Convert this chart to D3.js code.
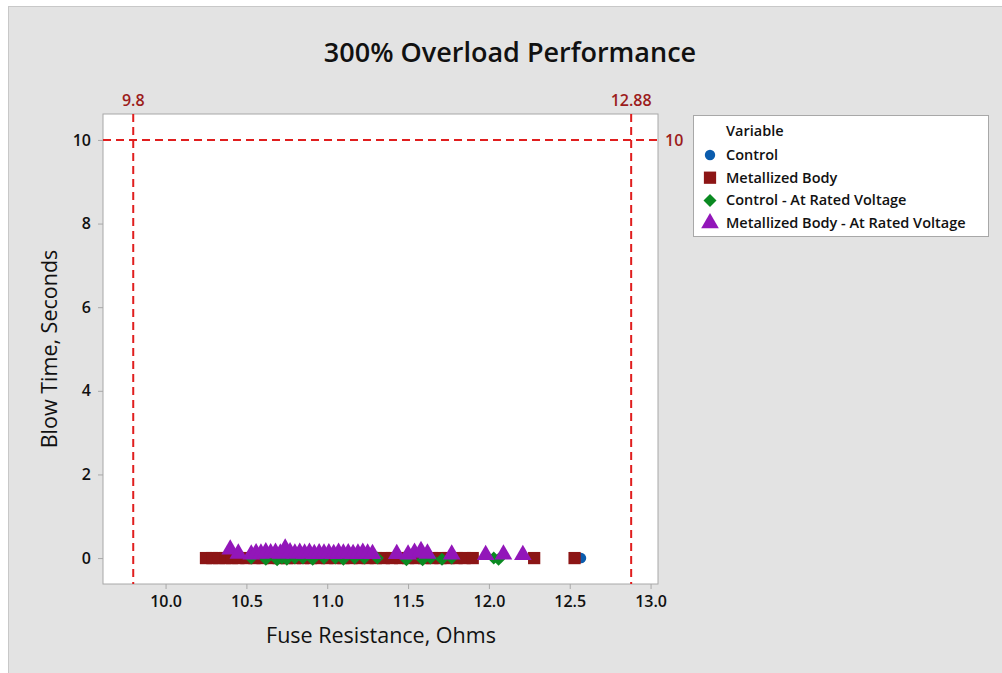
<!DOCTYPE html>
<html>
<head>
<meta charset="utf-8">
<script src="https://cdn.jsdelivr.net/npm/d3@7"></script>
<style>
  body { margin: 0; background: #fff; }
  text { font-family: "Open Sans", "Noto Sans", sans-serif; }
</style>
</head>
<body>
<div id="svg"></div>
<script>
var width = 1002, height = 673;

// data (blow time in seconds vs resistance in ohms)
var seriesNames = ["Control", "Metallized Body", "Control - At Rated Voltage", "Metallized Body - At Rated Voltage"];

var controlX = [10.3, 10.45, 10.6, 10.75, 10.9, 11.0, 11.15, 11.3, 11.45, 11.65, 11.8, 12.57];
var controlY = [0, 0, 0, 0, 0, 0, 0, 0, 0, 0, 0, 0];

var metalX = [10.25, 10.29, 10.33, 10.37, 10.41, 10.45, 10.5, 10.55, 10.6, 10.65, 10.7, 10.75, 10.8,
              10.85, 10.9, 10.95, 11.0, 11.05, 11.1, 11.15, 11.2, 11.25, 11.3, 11.35, 11.4, 11.45,
              11.5, 11.55, 11.6, 11.65, 11.7, 11.75, 11.8, 11.85, 11.9, 12.28, 12.53];
var metalY = metalX.map(function() { return 0; });

var ctrlRatedX = [10.53, 10.62, 10.69, 10.72, 10.75, 10.8, 10.85, 10.91, 10.98, 11.05, 11.1, 11.17,
                  11.23, 11.31, 11.49, 11.59, 11.64, 11.71, 11.77, 12.03, 12.06];
var ctrlRatedY = [0, -0.03, -0.04, 0, -0.03, 0, 0, -0.03, 0, 0, -0.03, 0, 0, 0, -0.04, -0.04, 0, -0.03, 0, 0, -0.03];

var metRatedX = [10.4, 10.45, 10.53, 10.56, 10.59, 10.62, 10.65, 10.68, 10.71, 10.74, 10.77, 10.8,
                 10.83, 10.86, 10.89, 10.92, 10.95, 10.98, 11.01, 11.04, 11.07, 11.1, 11.13, 11.16,
                 11.19, 11.22, 11.25, 11.28, 11.43, 11.5, 11.54, 11.58, 11.62, 11.77, 11.98, 12.09, 12.21];
var metRatedY = [0.16, 0.06, 0.04, 0.07, 0.06, 0.09, 0.07, 0.08, 0.06, 0.18, 0.09, 0.06,
                 0.08, 0.06, 0.08, 0.05, 0.07, 0.06, 0.07, 0.05, 0.08, 0.06, 0.07, 0.05,
                 0.06, 0.08, 0.06, 0.05, 0.05, 0.04, 0.08, 0.12, 0.06, 0.04, 0.03, 0.04, 0.03];

var xTicks = [10.0, 10.5, 11.0, 11.5, 12.0, 12.5, 13.0];
var yTicks = [0, 2, 4, 6, 8, 10];
var refX = [9.8, 12.88];
var refY = [10];

var colors = ["#0b5cad", "#8c1515", "#0b8a22", "#9216b9"];
var refColor = "#e01e1e";
var refText = "#9c1c1c";

var svg = d3.select('#svg').append('svg')
    .attr('width', width)
    .attr('height', height);

// gray frame
svg.append("rect")
    .attr("x", 8.5).attr("y", 6.5)
    .attr("width", 1010).attr("height", 680)
    .attr("fill", "#e3e3e3")
    .attr("stroke", "#c8c8c8");

var pLeft = 103, pRight = 658, pTop = 114, pBottom = 584;

var x = d3.scaleLinear().domain([9.613, 13.046]).range([pLeft, pRight]);
var y = d3.scaleLinear().domain([-0.62, 10.62]).range([pBottom, pTop]);

// plot area
svg.append("rect")
    .attr("x", pLeft).attr("y", pTop)
    .attr("width", pRight - pLeft).attr("height", pBottom - pTop)
    .attr("fill", "#fff")
    .attr("stroke", "#a8a8a8");

// axes
var xAxis = svg.append("g")
    .attr("transform", "translate(0," + pBottom + ")")
    .call(d3.axisBottom(x).tickValues(xTicks).tickFormat(d3.format(".1f")).tickSize(5).tickPadding(7));
var yAxis = svg.append("g")
    .attr("transform", "translate(" + pLeft + ",0)")
    .call(d3.axisLeft(y).tickValues(yTicks).tickSize(5).tickPadding(7));

[xAxis, yAxis].forEach(function(a) {
    a.select(".domain").remove();
    a.selectAll("line").attr("stroke", "#a8a8a8");
    a.selectAll("text")
        .attr("font-size", 16)
        .attr("font-weight", 600)
        .attr("fill", "#111");
});

// reference lines
refX.forEach(function(v) {
    svg.append("line")
        .attr("x1", x(v)).attr("x2", x(v))
        .attr("y1", pTop).attr("y2", pBottom)
        .attr("stroke", refColor).attr("stroke-width", 2)
        .attr("stroke-dasharray", "8,5");
    svg.append("text")
        .attr("x", x(v)).attr("y", pTop - 8)
        .attr("text-anchor", "middle")
        .attr("font-size", 16).attr("font-weight", 600)
        .attr("fill", refText)
        .text(v);
});
refY.forEach(function(v) {
    svg.append("line")
        .attr("x1", pLeft).attr("x2", pRight)
        .attr("y1", y(v)).attr("y2", y(v))
        .attr("stroke", refColor).attr("stroke-width", 2)
        .attr("stroke-dasharray", "8,5");
    svg.append("text")
        .attr("x", pRight + 7).attr("y", y(v))
        .attr("dy", "0.35em")
        .attr("font-size", 16).attr("font-weight", 600)
        .attr("fill", refText)
        .text(v);
});

// symbols
var shapes = [
    d3.symbol().type(d3.symbolCircle).size(85),
    d3.symbol().type(d3.symbolSquare).size(150),
    d3.symbol().type(d3.symbolSquare).size(85),
    d3.symbol().type(d3.symbolTriangle).size(135)
];
var rot = [0, 0, 45, 0];

var series = [
    {x: controlX, y: controlY},
    {x: metalX, y: metalY},
    {x: ctrlRatedX, y: ctrlRatedY},
    {x: metRatedX, y: metRatedY}
];

series.forEach(function(s, i) {
    var pts = s.x.map(function(v, j) { return [v, s.y[j]]; });
    svg.append("g").selectAll("path")
        .data(pts)
        .enter().append("path")
        .attr("d", shapes[i])
        .attr("transform", function(d) {
            var dy = i === 3 ? -2 : 0;
            return "translate(" + x(d[0]) + "," + (y(d[1]) + dy) + ") rotate(" + rot[i] + ")";
        })
        .attr("fill", colors[i]);
});

// title and axis labels
svg.append("text")
    .attr("x", 510).attr("y", 62)
    .attr("text-anchor", "middle")
    .attr("font-size", 27)
    .attr("font-weight", 600)
    .attr("fill", "#111")
    .text("300% Overload Performance");

svg.append("text")
    .attr("x", 381).attr("y", 643)
    .attr("text-anchor", "middle")
    .attr("font-size", 21.5)
    .attr("font-weight", 500)
    .attr("fill", "#111")
    .text("Fuse Resistance, Ohms");

svg.append("text")
    .attr("transform", "translate(57,349) rotate(-90)")
    .attr("text-anchor", "middle")
    .attr("font-size", 21.5)
    .attr("font-weight", 500)
    .attr("fill", "#111")
    .text("Blow Time, Seconds");

// legend
var lg = svg.append("g");
lg.append("rect")
    .attr("x", 693.5).attr("y", 115.5)
    .attr("width", 295).attr("height", 121)
    .attr("fill", "#fff")
    .attr("stroke", "#a8a8a8");
lg.append("text")
    .attr("x", 726).attr("y", 131).attr("dy", "0.35em")
    .attr("font-size", 14.5).attr("font-weight", 600)
    .attr("fill", "#111")
    .text("Variable");
seriesNames.forEach(function(n, i) {
    var ly = 155 + i * 22.7;
    lg.append("path")
        .attr("d", shapes[i])
        .attr("transform", "translate(710," + ly + ") rotate(" + rot[i] + ")")
        .attr("fill", colors[i]);
    lg.append("text")
        .attr("x", 726).attr("y", ly).attr("dy", "0.35em")
        .attr("font-size", 14.5).attr("font-weight", 600)
        .attr("fill", "#111")
        .text(n);
});
</script>
</body>
</html>
